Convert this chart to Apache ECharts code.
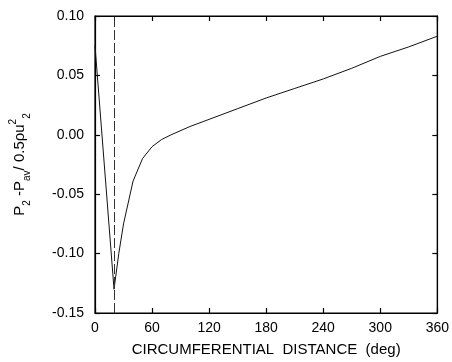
<!DOCTYPE html>
<html><head><meta charset="utf-8">
<script src="https://cdn.jsdelivr.net/npm/echarts@6/dist/echarts.min.js"></script>
<style>html,body{margin:0;padding:0;background:#fff}#c{width:452px;height:362px}</style>
</head><body><div id="c"></div>
<script>
var distance = [0, 20, 25, 30, 40, 50, 60, 70, 80, 100, 120, 150, 180, 210, 240, 270, 300, 330, 360];
var pressure = [0.075, -0.130, -0.100, -0.075, -0.039, -0.020, -0.010, -0.004, 0.000, 0.007, 0.013, 0.022, 0.031, 0.039, 0.047, 0.056, 0.066, 0.074, 0.083];
var markerDeg = 20;
var xTicks = [0, 60, 120, 180, 240, 300, 360];
var yTicks = [-0.15, -0.10, -0.05, 0.00, 0.05, 0.10];

var font = '"Liberation Sans", Arial, Helvetica, sans-serif';
var chart = echarts.init(document.getElementById('c'));
var axisLineStyle = {color: '#000', width: 1.2};
chart.setOption({
  animation: false,
  grid: {left: 95, right: 14, top: 16, bottom: 47, show: true, borderColor: '#000', borderWidth: 1.2, backgroundColor: 'transparent'},
  xAxis: [{
    type: 'value', min: 0, max: 360, interval: 60,
    axisLine: {onZero: false, lineStyle: axisLineStyle},
    axisTick: {inside: true, length: 5, lineStyle: axisLineStyle},
    splitLine: {show: false},
    axisLabel: {color: '#000', fontSize: 14, fontFamily: font, margin: 8,
      formatter: function (v) { return xTicks.indexOf(v) >= 0 ? String(v) : ''; }},
    name: 'CIRCUMFERENTIAL  DISTANCE  (deg)', nameLocation: 'middle', nameGap: 29,
    nameTextStyle: {color: '#000', fontSize: 15, fontFamily: font}
  }, {
    type: 'value', min: 0, max: 360, interval: 60, position: 'top',
    axisLine: {show: true, onZero: false, lineStyle: axisLineStyle},
    axisTick: {show: true, inside: true, length: 5, lineStyle: axisLineStyle},
    axisLabel: {show: false}, splitLine: {show: false}
  }],
  yAxis: [{
    type: 'value', min: -0.15, max: 0.10, interval: 0.05,
    axisLine: {show: true, onZero: false, lineStyle: axisLineStyle},
    axisTick: {show: true, inside: true, length: 5, lineStyle: axisLineStyle},
    splitLine: {show: false},
    axisLabel: {color: '#000', fontSize: 14, fontFamily: font, margin: 11,
      formatter: function (v) { return v.toFixed(2); }},
    name: '{b|P}{s|2}{b| -P}{s|av}{b|/ 0.5\u03c1u}{p|2}{s|2}',
    nameLocation: 'middle', nameGap: 63, nameRotate: 90,
    nameTextStyle: {
      color: '#000', fontSize: 15, fontFamily: font,
      rich: {
        b: {fontSize: 15, fontFamily: font, color: '#000', lineHeight: 24, verticalAlign: 'middle'},
        s: {fontSize: 10, fontFamily: font, color: '#000', lineHeight: 24, verticalAlign: 'bottom'},
        p: {fontSize: 10, fontFamily: font, color: '#000', lineHeight: 24, verticalAlign: 'top'}
      }
    }
  }, {
    type: 'value', min: -0.15, max: 0.10, interval: 0.05, position: 'right',
    axisLine: {show: true, onZero: false, lineStyle: axisLineStyle},
    axisTick: {show: true, inside: true, length: 5, lineStyle: axisLineStyle},
    axisLabel: {show: false}, splitLine: {show: false}
  }],
  series: [{
    type: 'line',
    data: distance.map(function (d, i) { return [d, pressure[i]]; }),
    symbol: 'none',
    lineStyle: {color: '#111', width: 1},
    markLine: {
      silent: true, symbol: 'none', label: {show: false},
      lineStyle: {color: '#333', width: 1, type: [10, 3]},
      data: [{xAxis: markerDeg}]
    }
  }]
});
</script></body></html>
